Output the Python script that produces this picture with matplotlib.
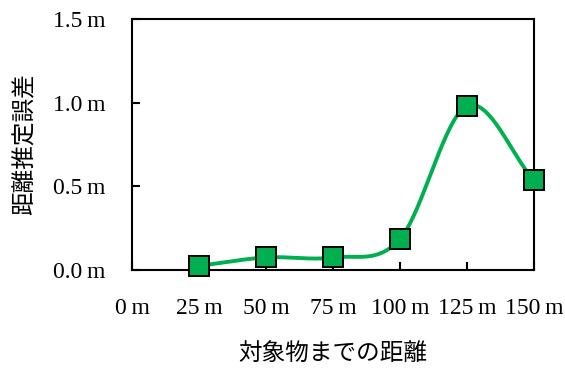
import numpy as np
import matplotlib.pyplot as plt

distances = [25, 50, 75, 100, 125, 150]
errors = [0.025, 0.075, 0.075, 0.185, 0.98, 0.535]
x_ticks = [0, 25, 50, 75, 100, 125, 150]
y_ticks = [0.0, 0.5, 1.0, 1.5]

green = '#00B050'
latin = 'Liberation Serif'
jp = ['Noto Sans CJK JP', 'DejaVu Sans']


def smooth(xs, ys, n=40):
    # Catmull-Rom style smoothing, like a spreadsheet smoothed line
    xs = np.asarray(xs, float)
    ys = np.asarray(ys, float)
    px = np.concatenate([[2 * xs[0] - xs[1]], xs, [2 * xs[-1] - xs[-2]]])
    py = np.concatenate([[2 * ys[0] - ys[1]], ys, [2 * ys[-1] - ys[-2]]])
    out_x, out_y = [], []
    t = np.linspace(0, 1, n)
    for i in range(1, len(px) - 2):
        p0, p1, p2, p3 = (np.array([px[j], py[j]]) for j in range(i - 1, i + 3))
        c1 = p1 + (p2 - p0) / 6
        c2 = p2 - (p3 - p1) / 6
        pts = ((1 - t) ** 3)[:, None] * p1 + (3 * (1 - t) ** 2 * t)[:, None] * c1 \
            + (3 * (1 - t) * t ** 2)[:, None] * c2 + (t ** 3)[:, None] * p2
        out_x.extend(pts[:, 0])
        out_y.extend(pts[:, 1])
    return out_x, out_y


fig = plt.figure(figsize=(5.65, 3.68), dpi=100)
ax = fig.add_axes([0.2336, 0.2663, 0.7115, 0.682])

sx, sy = smooth(distances, errors)
ax.plot(sx, sy, color=green, lw=2.8, zorder=2)
ax.plot(distances, errors, ls='none', marker='s', ms=14.5, mfc=green, mec='black',
        mew=1.4, clip_on=False, zorder=3)

ax.set_xlim(0, 150)
ax.set_ylim(0, 1.5)
ax.set_xticks(x_ticks)
ax.set_yticks(y_ticks)
ax.set_xticklabels([f'{v}\u2009m' for v in x_ticks], fontfamily=latin, fontsize=17)
ax.set_yticklabels([f'{v:.1f}\u2009m' for v in y_ticks], fontfamily=latin, fontsize=17)
ax.tick_params(direction='in', length=6, width=1.5, pad=20)
ax.tick_params(axis='y', pad=19)
for s in ax.spines.values():
    s.set_linewidth(1.5)

ax.set_xlabel('対象物までの距離', family=jp, fontsize=17, labelpad=17)
ax.set_ylabel('距離推定誤差', family=jp, fontsize=17, labelpad=12)

plt.savefig('out.png', dpi=100)
plt.close()
